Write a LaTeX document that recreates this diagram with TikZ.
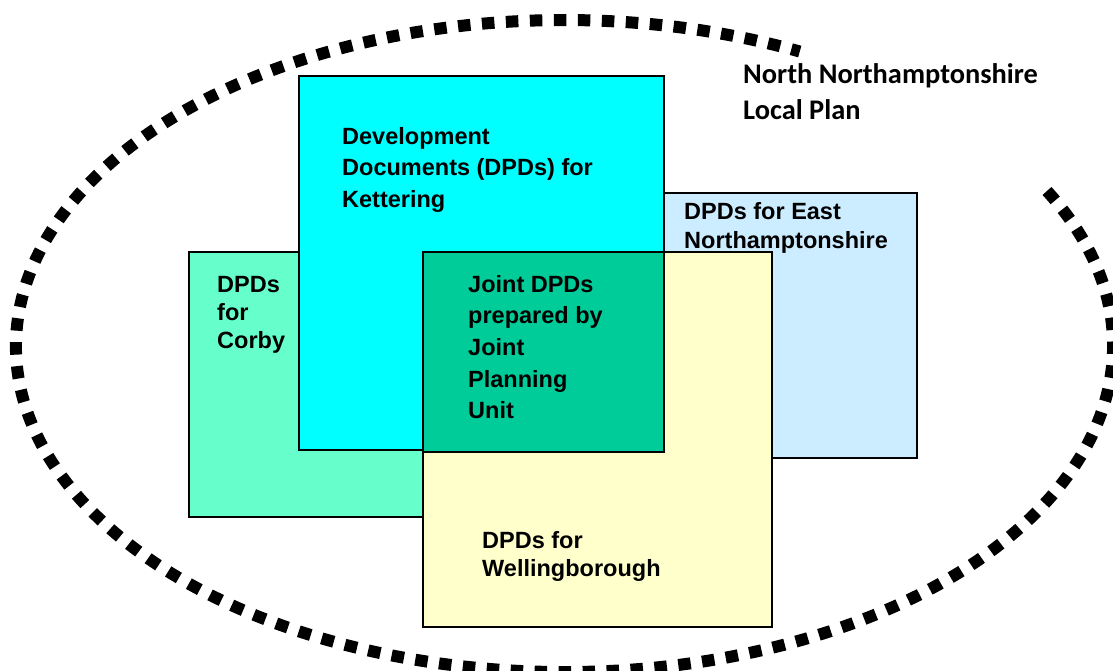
\documentclass[tikz,border=0pt]{standalone}
\usepackage{fontspec}
\setmainfont{Liberation Sans}
\newfontfamily\calfont{Carlito}
\definecolor{ketc}{HTML}{00FFFF}
\definecolor{corc}{HTML}{66FFCC}
\definecolor{eastc}{HTML}{CCECFF}
\definecolor{wellc}{HTML}{FFFFCC}
\definecolor{jointc}{HTML}{00CC99}
\begin{document}
\begin{tikzpicture}[x=1pt,y=-1pt,
  box/.style={draw=black, line width=1.8pt},
  lbl/.style={anchor=base west, inner sep=0pt, font=\bfseries\fontsize{23.5}{#1}\selectfont},
  ring/.style={line width=12pt, dash pattern=on 12.5pt off 11.5pt}]
\useasboundingbox (0,0) rectangle (1113,670);
\clip (0,0) rectangle (1113,670);
% boxes
\path[box, fill=corc] (189,252) rectangle (423,517);
\path[box, fill=eastc] (664,193) rectangle (917,458);
\path[box, fill=ketc] (299,76) rectangle (664,450);
\path[box, fill=wellc] (423,252) rectangle (772,627);
\path[box, fill=jointc] (423,252) rectangle (664,452);
% dashed ring
\coordinate (c) at (564.5,346);
\draw[ring] (c) ++(-28.4:548.5 and 326) arc[start angle=-28.4, end angle=295.4, x radius=548.5, y radius=326];
% labels
\node[lbl=31.7] (ket) at (342,144) {\vtop{\hbox{Development}\hbox{Documents (DPDs) for}\hbox{Kettering}}};
\node[lbl=28.3] (cor) at (217,292) {\vtop{\hbox{DPDs}\hbox{for}\hbox{Corby}}};
\node[lbl=31.7] (joint) at (468,292) {\vtop{\hbox{Joint DPDs}\hbox{prepared by}\hbox{Joint}\hbox{Planning}\hbox{Unit}}};
\node[lbl=29.5] (east) at (684,219) {\vtop{\hbox{DPDs for East}\hbox{Northamptonshire}}};
\node[lbl=28] (well) at (482,548) {\vtop{\hbox{DPDs for}\hbox{Wellingborough}}};
\node[anchor=base west, inner sep=0pt, font=\calfont\bfseries\fontsize{28.4}{36}\selectfont] (nn) at (743,83) {\vtop{\hbox{North Northamptonshire}\hbox{Local Plan}}};
\end{tikzpicture}
\end{document}
